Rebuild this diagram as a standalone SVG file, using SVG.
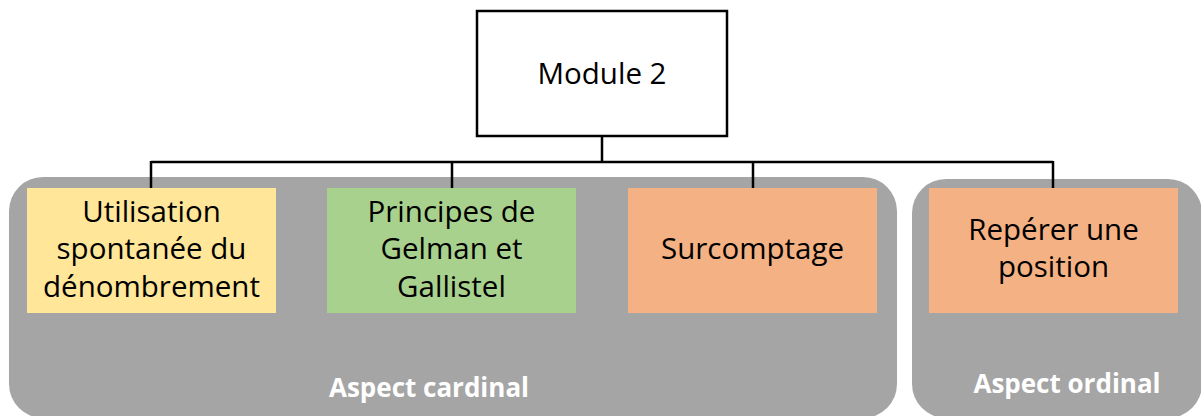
<svg xmlns="http://www.w3.org/2000/svg" width="1201" height="416" viewBox="0 0 1201 416">
<style>
.grp{fill:#A5A5A5}
.t{font-family:"Open Sans","Liberation Sans",sans-serif;font-size:29.5px;fill:#000;text-anchor:middle}
.lbl{font-family:"Open Sans","Liberation Sans",sans-serif;font-size:26px;font-weight:bold;fill:#fff;text-anchor:middle}
.c{stroke:#000;stroke-width:2.5;fill:none}
</style>
<rect width="1201" height="416" fill="#fff"/>
<g id="group-cardinal">
<rect class="grp" x="9" y="177" width="888" height="241" rx="34"/>
<text class="lbl" x="429" y="397">Aspect cardinal</text>
</g>
<g id="group-ordinal">
<rect class="grp" x="912" y="179" width="290" height="239" rx="34"/>
<text class="lbl" x="1067" y="393">Aspect ordinal</text>
</g>
<g id="connectors">
<path class="c" d="M602 136V162M151 162H1053M151 161V188M452 161V188M753 161V188M1053 161V188"/>
</g>
<g id="module2">
<rect x="477" y="11" width="250" height="125" fill="#fff" stroke="#000" stroke-width="2.5"/>
<text class="t" x="602" y="84">Module 2</text>
</g>
<g id="utilisation">
<rect x="27" y="188" width="249" height="125" fill="#FFE699"/>
<text class="t" x="151.5" y="222">Utilisation</text>
<text class="t" x="151.5" y="259">spontanée du</text>
<text class="t" x="151.5" y="297">dénombrement</text>
</g>
<g id="principes">
<rect x="327" y="188" width="249" height="125" fill="#A9D18E"/>
<text class="t" x="451.5" y="222">Principes de</text>
<text class="t" x="451.5" y="259">Gelman et</text>
<text class="t" x="451.5" y="297">Gallistel</text>
</g>
<g id="surcomptage">
<rect x="628" y="188" width="249" height="125" fill="#F4B183"/>
<text class="t" x="752.5" y="259">Surcomptage</text>
</g>
<g id="reperer">
<rect x="929" y="188" width="249" height="125" fill="#F4B183"/>
<text class="t" x="1053.5" y="240">Repérer une</text>
<text class="t" x="1053.5" y="277">position</text>
</g>
</svg>
